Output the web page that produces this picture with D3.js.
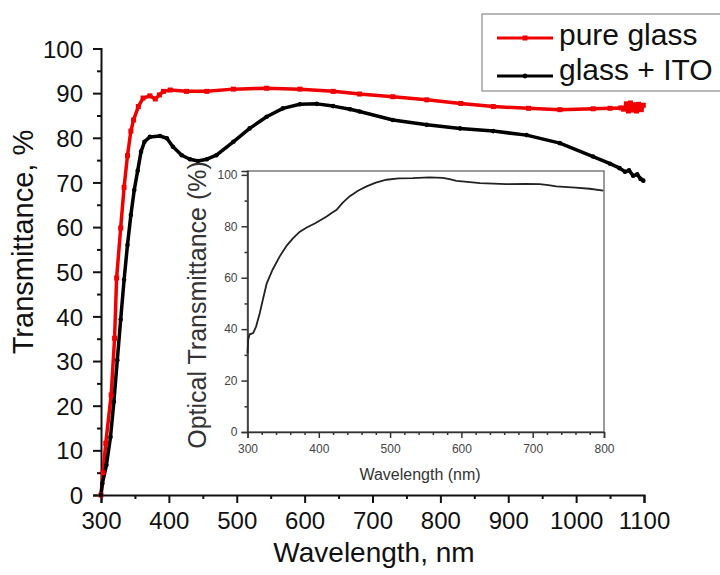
<!DOCTYPE html>
<html>
<head>
<meta charset="utf-8">
<script src="https://cdn.jsdelivr.net/npm/d3@7"></script>
<style>
  body { margin: 0; background: #fff; }
  svg { display: block; font-family: "Liberation Sans", Arial, sans-serif; }
</style>
</head>
<body>
<svg id="canvas"></svg>
<script>
/***********************************************************************/
// Data

var seriesNames = ['pure glass', 'glass + ITO'];
var seriesColors = ['#f00000', '#000000'];

// pure glass: [wavelength nm, transmittance %]
var pureGlass = [
  [300, 0], [303, 5], [307, 11.6], [315, 22.4], [320, 35.1], [323, 48.6], [329, 59.8],
  [334, 68.9], [339, 76], [344, 81.5], [348, 84], [355, 87], [362, 88.9], [372, 89.4],
  [380, 88.7], [386, 89.6], [392, 90.4], [402, 90.7], [426, 90.4], [456, 90.4], [495, 90.9],
  [544, 91.1], [593, 90.9], [642, 90.4], [681, 89.8], [730, 89.2], [780, 88.5], [830, 87.7],
  [878, 87], [930, 86.6], [976, 86.3], [1025, 86.5], [1050, 86.6], [1066, 86.7], [1070, 86.4],
  [1074, 87.6], [1077, 86.0], [1080, 87.8], [1083, 86.2], [1086, 87.4], [1089, 86.0],
  [1092, 87.5], [1096, 86.3], [1099, 87.3]
];

// glass + ITO
var glassIto = [
  [300, 0], [302, 2.6], [308, 6.7], [314, 13], [319, 20.9], [324, 30.2], [329, 39.3],
  [334, 48.2], [339, 56], [344, 62.7], [349, 68.3], [354, 72.6], [359, 76.9], [364, 79.1],
  [372, 80.2], [387, 80.4], [397, 79.9], [406, 78], [419, 76.1], [431, 75.2], [443, 74.8],
  [456, 75.2], [470, 76.1], [495, 79.1], [519, 82.1], [544, 84.7], [568, 86.6], [593, 87.5],
  [618, 87.6], [642, 87.1], [667, 86.4], [681, 85.9], [730, 84], [780, 82.9], [829, 82.1],
  [878, 81.5], [927, 80.6], [976, 78.8], [1025, 75.8], [1050, 74.2], [1064, 73.2],
  [1072, 72.4], [1078, 72.7], [1084, 71.5], [1090, 71.8], [1095, 70.8], [1099, 70.4]
];

// inset: optical transmittance
var insetData = [
  [300, 30.5], [301, 36], [303, 38], [308, 38.5], [312, 41], [317, 46], [322, 52],
  [327, 57.8], [335, 63], [345, 68.2], [355, 72.5], [364, 75.4], [373, 77.8], [383, 79.5],
  [395, 81.2], [411, 83.8], [418, 85.2], [425, 86.4], [433, 89], [443, 91.6], [455, 93.8],
  [467, 95.5], [480, 97], [495, 98.1], [512, 98.6], [532, 98.7], [555, 99], [574, 98.8],
  [585, 98.2], [593, 97.7], [612, 97.2], [626, 96.8], [645, 96.6], [663, 96.4], [690, 96.5],
  [710, 96.4], [722, 96], [733, 95.5], [760, 95], [780, 94.6], [799, 93.9]
];

var xTicks = [300, 400, 500, 600, 700, 800, 900, 1000, 1100];
var yTicks = [0, 10, 20, 30, 40, 50, 60, 70, 80, 90, 100];
var insetXTicks = [300, 400, 500, 600, 700, 800];
var insetYTicks = [0, 20, 40, 60, 80, 100];

/***********************************************************************/
// Layout

var svg_width = 720, svg_height = 575;
var main = { left: 101, right: 644, top: 48.5, bottom: 495 };
var inset = { left: 247.5, right: 604, top: 171, bottom: 432 };

var svg = d3.select('#canvas').attr('width', svg_width).attr('height', svg_height);

var xScale = d3.scaleLinear().domain([300, 1100]).range([main.left, main.right]);
var yScale = d3.scaleLinear().domain([0, 100]).range([main.bottom, main.top]);

/***********************************************************************/
// Main axes

var xAxis = d3.axisBottom(xScale).tickValues(xTicks).tickSize(8).tickPadding(9).tickFormat(d3.format('d'));
var xMinor = d3.axisBottom(xScale).tickValues(d3.range(350, 1100, 100)).tickSize(4).tickFormat('');
var yAxis = d3.axisLeft(yScale).tickValues(yTicks).tickSize(8).tickPadding(10).tickFormat(d3.format('d'));
var yMinor = d3.axisLeft(yScale).tickValues(d3.range(5, 100, 10)).tickSize(4).tickFormat('');

function styleAxis(g, color, width, fontSize, textColor){
  g.select('.domain').attr('stroke', color).attr('stroke-width', width);
  g.selectAll('.tick line').attr('stroke', color).attr('stroke-width', width);
  g.selectAll('.tick text').attr('fill', textColor).style('font-size', fontSize + 'px');
}

var gx = svg.append('g').attr('transform', 'translate(0,' + main.bottom + ')').call(xAxis);
styleAxis(gx, '#111', 2, 24, '#111');
var gxm = svg.append('g').attr('transform', 'translate(0,' + main.bottom + ')').call(xMinor);
styleAxis(gxm, '#111', 2, 24, '#111');
gxm.select('.domain').remove();

var gy = svg.append('g').attr('transform', 'translate(' + main.left + ',0)').call(yAxis);
styleAxis(gy, '#111', 2, 24, '#111');
gy.selectAll('.tick text').attr('dy', '0.36em');
var gym = svg.append('g').attr('transform', 'translate(' + main.left + ',0)').call(yMinor);
styleAxis(gym, '#111', 2, 24, '#111');
gym.select('.domain').remove();

svg.append('text').attr('x', 374).attr('y', 562).attr('text-anchor', 'middle')
  .style('font-size', '28px').attr('fill', '#111').text('Wavelength, nm');
svg.append('text').attr('transform', 'translate(33,242) rotate(-90)').attr('text-anchor', 'middle')
  .style('font-size', '29px').attr('fill', '#111').text('Transmittance, %');

/***********************************************************************/
// Main series

var line = d3.line().x(d => xScale(d[0])).y(d => yScale(d[1]));

[pureGlass, glassIto].forEach((data, i) => {
  svg.append('path').datum(data).attr('d', line)
    .attr('fill', 'none').attr('stroke', seriesColors[i]).attr('stroke-width', 3.5)
    .attr('stroke-linejoin', 'round');
});

svg.selectAll('.mk-red').data(pureGlass).enter().append('rect')
  .attr('x', d => xScale(d[0]) - 2.5).attr('y', d => yScale(d[1]) - 2.5)
  .attr('width', 5).attr('height', 5).attr('fill', seriesColors[0]);
svg.selectAll('.mk-black').data(glassIto).enter().append('circle')
  .attr('cx', d => xScale(d[0])).attr('cy', d => yScale(d[1])).attr('r', 2.3)
  .attr('fill', seriesColors[1]);

/***********************************************************************/
// Legend

var legend = svg.append('g');
legend.append('rect').attr('x', 482).attr('y', 14).attr('width', 260).attr('height', 77)
  .attr('fill', '#fff').attr('stroke', '#8a8a8a').attr('stroke-width', 1.2);

var legendLineY = [38, 76], legendTextY = [45, 80];

seriesNames.forEach((name, i) => {
  var ly = legendLineY[i];
  legend.append('line').attr('x1', 497).attr('x2', 553).attr('y1', ly).attr('y2', ly)
    .attr('stroke', seriesColors[i]).attr('stroke-width', 3);
  if(i === 0){
    legend.append('rect').attr('x', 522.5).attr('y', ly - 2.5).attr('width', 5).attr('height', 5).attr('fill', seriesColors[i]);
  } else {
    legend.append('circle').attr('cx', 525).attr('cy', ly).attr('r', 2.4).attr('fill', seriesColors[i]);
  }
  legend.append('text').attr('x', 559).attr('y', legendTextY[i])
    .style('font-size', '30px').attr('fill', '#111').text(name);
});

/***********************************************************************/
// Inset

var xi = d3.scaleLinear().domain([300, 800]).range([inset.left, inset.right]);
var yi = d3.scaleLinear().domain([0, 101.5]).range([inset.bottom, inset.top]);

svg.append('rect').attr('x', inset.left).attr('y', inset.top)
  .attr('width', inset.right - inset.left).attr('height', inset.bottom - inset.top)
  .attr('fill', '#fff').attr('stroke', '#7a7a7a').attr('stroke-width', 1.5);

var gix = svg.append('g').attr('transform', 'translate(0,' + inset.bottom + ')')
  .call(d3.axisBottom(xi).tickValues(insetXTicks).tickSize(6).tickPadding(6).tickFormat(d3.format('d')));
styleAxis(gix, '#333', 1.5, 12, '#444');
var gixm = svg.append('g').attr('transform', 'translate(0,' + inset.bottom + ')')
  .call(d3.axisBottom(xi).tickValues(d3.range(320, 800, 20).filter(v => v % 100)).tickSize(3).tickFormat(''));
styleAxis(gixm, '#333', 1.5, 12, '#444');
gixm.select('.domain').remove();

var giy = svg.append('g').attr('transform', 'translate(' + inset.left + ',0)')
  .call(d3.axisLeft(yi).tickValues(insetYTicks).tickSize(6).tickPadding(4).tickFormat(d3.format('d')));
styleAxis(giy, '#333', 1.5, 12, '#444');
var giym = svg.append('g').attr('transform', 'translate(' + inset.left + ',0)')
  .call(d3.axisLeft(yi).tickValues(d3.range(10, 100, 20)).tickSize(3).tickFormat(''));
styleAxis(giym, '#333', 1.5, 12, '#444');
giym.select('.domain').remove();

svg.append('text').attr('x', 420).attr('y', 480).attr('text-anchor', 'middle')
  .style('font-size', '16px').attr('fill', '#333').text('Wavelength (nm)');
svg.append('text').attr('transform', 'translate(206,305) rotate(-90)').attr('text-anchor', 'middle')
  .style('font-size', '25px').attr('fill', '#333').text('Optical Transmittance (%)');

var insetLine = d3.line().x(d => xi(d[0])).y(d => yi(d[1]));
svg.append('path').datum(insetData).attr('d', insetLine)
  .attr('fill', 'none').attr('stroke', '#222').attr('stroke-width', 1.8);
</script>
</body>
</html>
